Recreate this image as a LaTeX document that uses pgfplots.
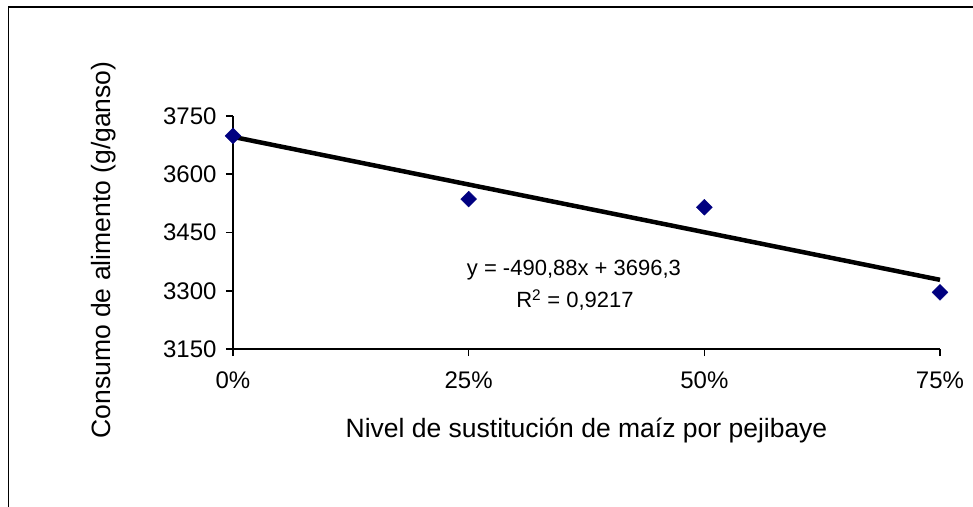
\documentclass[border=0pt]{standalone}
\usepackage{fontspec}
\setmainfont{Liberation Sans}
\usepackage{pgfplots}
\pgfplotsset{compat=1.18}
\definecolor{navy}{RGB}{0,0,128}
\begin{document}
\begin{tikzpicture}
\useasboundingbox (-233pt,-157pt) rectangle (740pt,349pt);
\draw[line width=1.8pt] (-224.5pt,-160pt) -- (-224.5pt,342pt) -- (742pt,342pt);
\begin{axis}[
  scale only axis,
  width=707pt, height=233pt,
  xmin=0, xmax=0.75, ymin=3150, ymax=3750,
  axis lines*=left,
  axis line style={line width=1.6pt, black},
  clip=false,
  xtick={0,0.25,0.5,0.75},
  xticklabels={0\%,25\%,50\%,75\%},
  ytick={3150,3300,3450,3600,3750},
  tick align=outside,
  major tick length=7pt,
  tick style={line width=1.6pt, black},
  /pgf/number format/assume math mode=true,
  /pgf/number format/1000 sep={},
  ticklabel style={font=\fontsize{24}{28}\selectfont},
  xticklabel style={yshift=-12pt},
  yticklabel style={xshift=-6pt},
  xlabel={Nivel de sustitución de maíz por pejibaye},
  ylabel={Consumo de alimento (g/ganso)},
  label style={font=\fontsize{26.5}{31}\selectfont},
  xlabel style={at={(axis description cs:0.5,-0.3777)}, anchor=base},
  ylabel style={at={(axis description cs:-0.1832,0.4249)}, anchor=center},
]
\addplot[only marks, mark=square*, mark size=5.6pt, mark options={rotate=45, fill=navy, draw=navy}]
  coordinates {(0,3699) (0.25,3536) (0.5,3515) (0.75,3296)};
\addplot[black, line width=4.5pt] coordinates {(0,3696.3) (0.75,3328.1)};
\node[font=\fontsize{22}{26}\selectfont, anchor=center] at (axis cs:0.3617,3353.4) {y = -490,88x + 3696,3};
\node[font=\fontsize{22}{26}\selectfont, anchor=center] at (axis cs:0.3628,3276.2) {R\textsuperscript{2} = 0,9217};
\end{axis}
\end{tikzpicture}
\end{document}
